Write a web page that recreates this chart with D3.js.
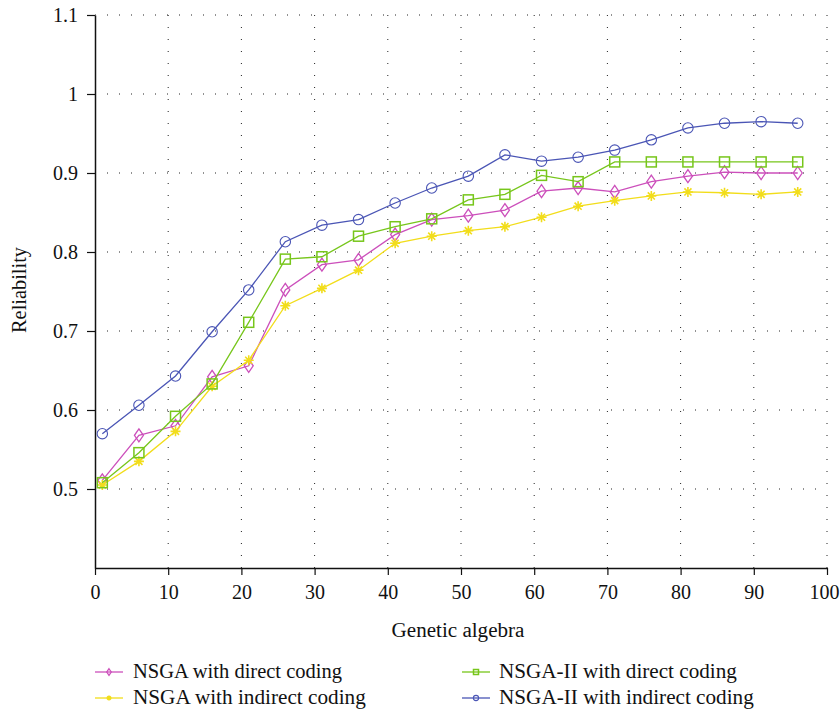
<!DOCTYPE html>
<html><head><meta charset="utf-8">
<script src="https://cdn.jsdelivr.net/npm/d3@7"></script>
</head><body style="margin:0;background:#fff">
<svg id="c" width="840" height="712" style="display:block"></svg>
<script>
const generations = [1,6,11,16,21,26,31,36,41,46,51,56,61,66,71,76,81,86,91,96];
const nsgaDirect   = [0.511,0.568,0.580,0.642,0.656,0.752,0.784,0.790,0.822,0.841,0.846,0.853,0.877,0.881,0.876,0.889,0.896,0.901,0.900,0.900];
const nsgaIndirect = [0.505,0.535,0.573,0.630,0.663,0.732,0.754,0.777,0.811,0.820,0.827,0.832,0.844,0.858,0.865,0.871,0.876,0.875,0.873,0.876];
const nsga2Direct  = [0.508,0.546,0.592,0.633,0.711,0.791,0.794,0.820,0.832,0.842,0.866,0.873,0.897,0.889,0.914,0.914,0.914,0.914,0.914,0.914];
const nsga2Indirect= [0.570,0.606,0.643,0.699,0.752,0.813,0.834,0.841,0.862,0.881,0.896,0.923,0.915,0.920,0.929,0.942,0.957,0.963,0.965,0.963];
const seriesNames = ["NSGA with direct coding","NSGA with indirect coding","NSGA-II with direct coding","NSGA-II with indirect coding"];
const xTicks = [0,10,20,30,40,50,60,70,80,90,100];
const yTicks = [0.4,0.5,0.6,0.7,0.8,0.9,1.0,1.1];

const FONT = "'Liberation Serif', Tinos, 'Times New Roman', serif";
const series = [
  {name:seriesNames[0], values:nsgaDirect, color:"#cc4fbb", marker:"diamond"},
  {name:seriesNames[1], values:nsgaIndirect, color:"#f2dd1a", marker:"star"},
  {name:seriesNames[2], values:nsga2Direct, color:"#77c61b", marker:"square"},
  {name:seriesNames[3], values:nsga2Indirect, color:"#4a55b5", marker:"circle"}
];

const svg = d3.select("#c").style("font-family",FONT);
const x = d3.scaleLinear().domain([0,100]).range([95,827]);
const y = d3.scaleLinear().domain([0.4,1.1]).range([568,15]);

function setFont(t){ t.attr("font-family","Liberation Serif").style("font-family",FONT); return t; }
function fit(t, w){
  t.style("font-size","20px");
  const m = t.node().getComputedTextLength();
  t.style("font-size", (20*w/m)+"px");
}

// grid
const g = svg.append("g");
g.selectAll(".gx").data(xTicks.filter(d=>d>0)).join("line")
  .attr("x1",d=>x(d)).attr("x2",d=>x(d)).attr("y1",y(1.1)).attr("y2",y(0.4))
  .attr("stroke","#222").attr("stroke-width",1).attr("stroke-dasharray","1,11");
g.selectAll(".gy").data(yTicks.filter(d=>d>0.41)).join("line")
  .attr("x1",x(0)).attr("x2",x(100)).attr("y1",d=>y(d)).attr("y2",d=>y(d))
  .attr("stroke","#222").attr("stroke-width",1).attr("stroke-dasharray","1,11");

// axes
const xAxis = svg.append("g").attr("transform",`translate(0,${y(0.4)})`)
  .call(d3.axisBottom(x).tickValues(xTicks).tickFormat(d3.format("d")).tickSize(7).tickSizeOuter(0));
const yAxis = svg.append("g").attr("transform",`translate(${x(0)},0)`)
  .call(d3.axisLeft(y).tickValues(yTicks.filter(d=>d>0.41)).tickFormat(d=>d===1?"1":d3.format(".1f")(d)).tickSize(8).tickSizeOuter(0));
[xAxis,yAxis].forEach(a=>{
  setFont(a);
  a.attr("font-size",20);
  a.select(".domain").attr("stroke","#111").attr("stroke-width",1.5);
  a.selectAll(".tick line").attr("stroke","#111").attr("stroke-width",1.2);
  a.selectAll("text").call(setFont).style("font-size","20px").attr("fill","#111");
});
xAxis.selectAll("text").attr("y",31).attr("dy",0).attr("dx",d=>d===100?-3:0);
yAxis.selectAll("text").attr("x",-17).attr("dy","0.34em");

const xl = svg.append("text").attr("x",458).attr("y",637).attr("text-anchor","middle").call(setFont).attr("fill","#111").text("Genetic algebra");
fit(xl,133);
const yl = svg.append("text").attr("transform","translate(26,290) rotate(-90)").attr("text-anchor","middle").call(setFont).attr("fill","#111").text("Reliability");
fit(yl,86);

function drawMarker(sel, type, color, s){
  if(type==="circle"){
    sel.append("circle").attr("r",5.2*s).attr("fill","none").attr("stroke",color).attr("stroke-width",1.1);
  } else if(type==="square"){
    const h=5*s;
    sel.append("rect").attr("x",-h).attr("y",-h).attr("width",2*h).attr("height",2*h).attr("fill","none").attr("stroke",color).attr("stroke-width",1.5);
  } else if(type==="diamond"){
    const w=4.5*s,h=6.5*s;
    sel.append("path").attr("d",`M0,${-h}L${w},0L0,${h}L${-w},0Z`).attr("fill","none").attr("stroke",color).attr("stroke-width",1.3);
  } else {
    const r=5*s;
    let d="";
    for(let i=0;i<4;i++){const a=i*Math.PI/4;d+=`M${-r*Math.cos(a)},${-r*Math.sin(a)}L${r*Math.cos(a)},${r*Math.sin(a)}`;}
    sel.append("path").attr("d",d).attr("stroke",color).attr("stroke-width",1.6).attr("fill","none");
  }
}

const line = d3.line().x((d,i)=>x(generations[i])).y(d=>y(d));
series.forEach(s=>{
  svg.append("path").attr("d",line(s.values)).attr("fill","none").attr("stroke",s.color).attr("stroke-width",1.3);
  s.values.forEach((v,i)=>{
    const m = svg.append("g").attr("transform",`translate(${x(generations[i])},${y(v)})`);
    drawMarker(m,s.marker,s.color,1);
  });
});

// legend
const legPos = [[95,672],[95,698],[462,672],[462,698]];
const legW = [209,233,238,255];
series.forEach((s,i)=>{
  const [lx,ly]=legPos[i];
  const lg = svg.append("g").attr("transform",`translate(${lx},${ly})`);
  lg.append("line").attr("x1",0).attr("x2",28).attr("y1",0).attr("y2",0).attr("stroke",s.color).attr("stroke-width",1.3);
  const m = lg.append("g").attr("transform","translate(14,0)");
  drawMarker(m,s.marker,s.color,0.5);
  const t = lg.append("text").attr("x",i<2?38:37).attr("y",6).call(setFont).attr("fill","#111").text(s.name);
  fit(t,legW[i]);
});
</script>
</body></html>
